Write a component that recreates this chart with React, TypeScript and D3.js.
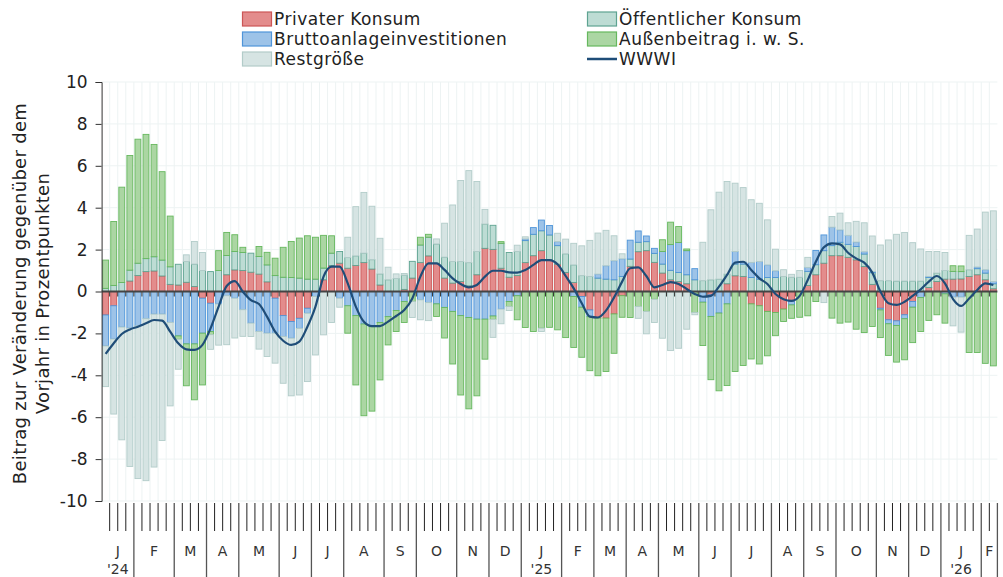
import * as d3 from "d3";
import { useEffect, useRef } from "react";

// weekly contributions (ISO weeks 2024-W01 .. 2026-W07), percentage points
const privat = [
  -1.12, -0.68, 0, 0.5, 0.76, 0.95, 0.98, 0.74, 0.34, 0.31, 0.44, 0.24, -0.32, -0.56, 0, 0.8, 1.03, 1.0, 0.92, 0.83,
  0.46, -0.32, -1.15, -1.43, -1.28, -0.8, 0, 0.56, 1.24, 1.35, 1.11, 1.24, 1.38, 1.07, 0.31, 0, 0, 0.1, 0.64, 1.38,
  1.7, 1.35, 0.64, 0.4, 0.48, 0.27, 0.8, 2.06, 2.01, 1.11, 0.68, 0.76, 1.38, 1.71, 1.95, 1.51, 1.3, 0.91, 0.43, -0.24,
  -0.88, -1.27, -1.27, -1.07, -0.2, 1.2, 1.9, 1.95, 1.39, 0.88, 0.56, 0.48, 0.37, 0, 0, -0.16, 0, 0.37, 0.75, 0.72,
  -0.59, -0.68, -0.95, -1.0, -0.84, -0.48, 0, 0.29, 0.8, 1.35, 1.71, 1.71, 1.63, 1.51, 1.19, 0.34, -0.8, -1.35, -1.4, -1.11,
  -0.48, 0, 0.19, 0.48, 0.59, 0.59, 0.6, 0.72, 0.8, 0.56, 0.13,
];
const oeffentlich = [
  0.15, 0.29, 0.43, 0.52, 0.59, 0.62, 0.68, 0.76, 0.84, 0.99, 0.99, 1.07, 1.0, 0.95, 1.0, 0.92, 0.88, 0.86, 0.91, 0.84,
  0.81, 0.76, 0.68, 0.67, 0.64, 0.59, 0.59, 0.56, 0.59, 0.56, 0.51, 0.46, 0.45, 0.45, 0.53, 0.56, 0.62, 0.68, 0.8, 0.84,
  0.89, 0.92, 1.0, 1.03, 0.95, 1.11, 1.11, 1.16, 1.15, 1.19, 1.18, 1.15, 1.05, 1.02, 0.95, 1.19, 0.89, 0.89, 0.84, 0.76,
  0.72, 0.64, 0.59, 0.56, 0.72, 0.35, 0.45, 0.43, 0.43, 0.43, 0.45, 0.43, 0.43, 0.56, 0.52, 0.56, 0.59, 0.46, 0.56, 0.59,
  0.67, 0.59, 0.67, 0.67, 0.72, 0.68, 0.68, 0.67, 0.48, 0.6, 0.48, 0.64, 0.62, 0.64, 0.6, 0.56, 0.52, 0.52, 0.5, 0.5,
  0.5, 0.5, 0.48, 0.4, 0.41, 0.37, 0.35, 0.32, 0.29, 0.32, 0.24,
];
const brutto = [
  -1.48, -1.59, -1.7, -1.75, -1.64, -1.3, -1.08, -1.08, -1.48, -2.12, -2.5, -2.5, -1.67, -1.35, -0.6, -0.2, -0.32, -0.87, -1.51, -1.91,
  -1.99, -1.67, -1.0, -0.8, -0.48, -0.24, -0.24, 0, 0, -0.32, -0.68, -1.15, -1.55, -1.68, -1.48, -1.2, -0.91, -0.48, 0, -0.4,
  -0.53, -0.59, -0.76, -0.95, -1.15, -1.24, -1.32, -1.32, -1.17, -0.84, -0.48, -0.2, 0.08, 0.32, 0.51, 0.45, 0.19, 0, -0.24, -0.51,
  -0.32, 0.19, 0.64, 0.91, 0.84, 0.9, 0.54, 0.27, 0.24, 0.6, 1.23, 1.43, 1.15, 0.53, -0.51, -1.03, -1.03, -0.59, 0.6, 0.1,
  0.72, 0.84, 0.6, 0.32, 0, -0.16, 0, 0.19, 0.68, 0.75, 0.88, 0.59, 0.43, 0.21, 0.11, 0.05, -0.08, -0.19, -0.22, -0.19,
  -0.27, -0.29, 0.05, 0, -0.11, -0.27, -0.27, 0, 0.08, 0.16, 0.11,
];
const aussen = [
  1.35, 3.05, 4.55, 5.47, 5.92, 5.93, 5.36, 4.22, 2.42, -0.16, -2.0, -2.67, -2.47, -0.15, 0.95, 1.1, 0.8, 0.25, 0, 0.48,
  0.6, 0.83, 1.43, 1.72, 1.91, 2.07, 2.0, 1.56, 0.83, 0, -1.31, -3.31, -4.38, -4.03, -2.74, -1.35, -1.0, -1.0, -0.48, 0.37,
  0.14, -0.6, -1.46, -2.51, -3.79, -4.36, -3.66, -1.91, -0.16, 0.08, -0.24, -1.15, -1.72, -1.91, -1.75, -1.71, -1.83, -2.2, -2.43, -2.39,
  -2.58, -2.75, -2.55, -1.88, -1.03, -1.24, -0.72, -0.95, -0.37, 0.56, 1.07, 0.76, 0.08, -1.0, -2.07, -3.02, -3.71, -3.9, -3.82, -3.53,
  -2.63, -2.78, -2.12, -1.11, -0.59, -0.64, -1.23, -1.16, -0.48, 0, -1.27, -1.51, -1.46, -1.8, -1.96, -1.67, -1.32, -1.51, -1.75, -1.96,
  -1.69, -1.62, -1.38, -1.11, -1.4, 0.27, 0.27, -2.91, -2.91, -3.43, -3.55,
];
const rest = [
  -1.94, -3.58, -5.38, -6.6, -7.29, -7.73, -7.3, -6.03, -3.98, -1.43, 0.32, 1.08, 0.86, -0.7, -1.96, -2.34, -1.9, -1.27, -0.64, -0.84,
  -1.11, -1.43, -2.23, -2.75, -3.18, -3.26, -2.79, -2.07, -1.48, -0.43, 0.97, 2.35, 2.9, 2.55, 1.7, 0.6, 0.22, 0.08, -0.76, -0.95,
  -0.86, 0.24, 1.62, 2.7, 3.87, 4.39, 3.34, 0.7, -0.86, -0.7, -0.19, 0.3, 0.1, 0, -0.16, 0, 0.4, 0.7, 1.03, 1.42,
  1.72, 1.96, 1.69, 1.19, 0.24, 0, -0.56, -1.07, -1.11, -2.23, -2.82, -2.71, -1.8, -0.11, 1.83, 3.34, 4.15, 4.42, 3.26, 3.55,
  2.99, 2.78, 2.15, 1.03, 0.32, 0.14, 0.32, 0.48, 0, -0.53, 0.51, 0.8, 0.6, 0.99, 1.38, 1.7, 1.7, 1.94, 2.23, 2.32,
  1.83, 1.53, 1.19, 1.03, 0.86, -1.37, -1.67, 1.64, 1.81, 2.75, 3.37,
];
const wwwi = [
  -2.98, -2.47, -2.03, -1.81, -1.68, -1.52, -1.36, -1.39, -1.92, -2.47, -2.76, -2.79, -2.55, -1.76, -0.72, 0.26, 0.5, -0.01, -0.41, -0.6,
  -1.2, -1.92, -2.35, -2.55, -2.39, -1.68, -0.72, 0.71, 1.19, 1.19, 0.39, -0.72, -1.44, -1.65, -1.65, -1.44, -1.17, -0.88, -0.33, 0.71,
  1.34, 1.34, 1.03, 0.63, 0.36, 0.2, 0.31, 0.71, 0.99, 0.99, 0.91, 0.9, 1.03, 1.27, 1.5, 1.5, 1.3, 0.74, 0.15, -0.56,
  -1.2, -1.24, -0.91, -0.28, 0.47, 1.11, 1.15, 0.74, 0.2, 0.31, 0.45, 0.36, 0.12, -0.12, -0.25, -0.21, 0.23, 0.79, 1.38, 1.42,
  1.03, 0.63, 0.36, -0.12, -0.37, -0.45, -0.21, 0.55, 1.42, 2.11, 2.3, 2.25, 1.85, 1.58, 1.38, 0.9, 0, -0.56, -0.64, -0.49,
  -0.21, 0.1, 0.47, 0.74, 0.39, -0.36, -0.69, -0.33, 0.07, 0.39, 0.31,
];

// x axis: months and number of ISO weeks in each
const months = ["J", "F", "M", "A", "M", "J", "J", "A", "S", "O", "N", "D", "J", "F", "M", "A", "M", "J", "J", "A", "S", "O", "N", "D", "J", "F"];
const weeksPerMonth = [4, 5, 4, 4, 5, 4, 4, 5, 4, 5, 4, 4, 5, 4, 4, 4, 5, 4, 5, 4, 4, 5, 4, 4, 5, 2];
const yearLabels = ["'24", "", "", "", "", "", "", "", "", "", "", "", "'25", "", "", "", "", "", "", "", "", "", "", "", "'26", ""];
const yTicks = [-10, -8, -6, -4, -2, 0, 2, 4, 6, 8, 10];

const series = [
  { key: "privat", label: "Privater Konsum", fill: "#e38c8c", stroke: "#cc5656", values: privat },
  { key: "oeffentlich", label: "Öffentlicher Konsum", fill: "#bddcd4", stroke: "#5ea391", values: oeffentlich },
  { key: "brutto", label: "Bruttoanlageinvestitionen", fill: "#9dc3e8", stroke: "#4f95d9", values: brutto },
  { key: "aussen", label: "Außenbeitrag i. w. S.", fill: "#abd6a3", stroke: "#66b85e", values: aussen },
  { key: "rest", label: "Restgröße", fill: "#d6e4e3", stroke: "#b2ccc9", values: rest },
];

const font = "'DejaVu Sans', sans-serif";

const App = () => {
  const ref = useRef<SVGSVGElement>(null);

  useEffect(() => {
    const svg = d3.select(ref.current);
    svg.selectAll("*").remove();

    const n = wwwi.length;
    const left = 101.6, right = 997.4, top = 82, bottom = 501;

    const x = d3.scaleBand<number>().domain(d3.range(n)).range([left, right]).paddingInner(0.16).paddingOuter(0.08);
    const step = x.step();
    const edge = (i: number) => left + i * step;
    const y = d3.scaleLinear().domain([-10, 10]).range([bottom, top]);

    const rows = d3.range(n).map((i) => {
      const r: any = { i };
      series.forEach((s) => (r[s.key] = s.values[i]));
      return r;
    });
    const stacked = d3.stack().keys(series.map((s) => s.key)).offset(d3.stackOffsetDiverging)(rows);

    // grid
    const grid = svg.append("g");
    grid.selectAll("line.v").data(d3.range(1, n)).join("line")
      .attr("x1", edge).attr("x2", edge).attr("y1", top).attr("y2", bottom)
      .attr("stroke", "#edf3f3").attr("stroke-width", 1);
    grid.selectAll("line.h").data(yTicks.filter((t) => t !== 0)).join("line")
      .attr("x1", left).attr("x2", right).attr("y1", (d) => y(d)).attr("y2", (d) => y(d))
      .attr("stroke", "#edf3f3").attr("stroke-width", 1);

    // bars
    stacked.forEach((layer, k) => {
      svg.append("g")
        .attr("fill", series[k].fill)
        .attr("stroke", series[k].stroke)
        .attr("stroke-width", 0.9)
        .selectAll("rect")
        .data(layer.filter((d) => Math.abs(d[1] - d[0]) > 0.001))
        .join("rect")
        .attr("x", (d: any) => x(d.data.i)! + 0.45)
        .attr("width", x.bandwidth() - 0.9)
        .attr("y", (d) => y(Math.max(d[0], d[1])))
        .attr("height", (d) => Math.abs(y(d[0]) - y(d[1])));
    });

    // zero line with week ticks
    svg.append("g").selectAll("line").data(d3.range(1, n)).join("line")
      .attr("x1", edge).attr("x2", edge).attr("y1", y(0)).attr("y2", y(0) + 5)
      .attr("stroke", "#333").attr("stroke-width", 1);
    svg.append("line").attr("x1", left).attr("x2", right).attr("y1", y(0)).attr("y2", y(0))
      .attr("stroke", "#444").attr("stroke-width", 2);

    // WWWI line
    const line = d3.line<number>()
      .x((d, i) => x(i)! + x.bandwidth() / 2)
      .y((d) => y(d))
      .curve(d3.curveMonotoneX);
    svg.append("path").datum(wwwi).attr("d", line)
      .attr("fill", "none").attr("stroke", "#1f4d78").attr("stroke-width", 2.2);

    // y axis
    const yAxis = svg.append("g").attr("transform", `translate(${left},0)`)
      .call(d3.axisLeft(y).tickValues(yTicks).tickSize(6).tickPadding(8).tickFormat((d) => String(d)));
    yAxis.select(".domain").attr("stroke", "#333");
    yAxis.selectAll(".tick line").attr("stroke", "#333");
    yAxis.selectAll("text").attr("font-family", font).attr("font-size", 17).attr("fill", "#222");

    svg.append("text")
      .attr("transform", `translate(26,${(top + bottom) / 2 + 2}) rotate(-90)`)
      .attr("text-anchor", "middle").attr("font-family", font).attr("font-size", 18).attr("letter-spacing", 0.3)
      .attr("fill", "#222")
      .text("Beitrag zur Veränderung gegenüber dem");
    svg.append("text")
      .attr("transform", `translate(49,${(top + bottom) / 2 + 2}) rotate(-90)`)
      .attr("text-anchor", "middle").attr("font-family", font).attr("font-size", 18).attr("letter-spacing", 0.3)
      .attr("fill", "#222")
      .text("Vorjahr in Prozentpunkten");

    // bottom axis: weekly ticks and month separators
    const monthStart = [0];
    weeksPerMonth.forEach((w, m) => monthStart.push(monthStart[m] + w));
    const sepSet = new Set(monthStart);
    svg.append("g").selectAll("line").data(d3.range(0, n + 1).filter((i) => !sepSet.has(i))).join("line")
      .attr("x1", edge).attr("x2", edge).attr("y1", bottom + 2).attr("y2", bottom + 30)
      .attr("stroke", "#222").attr("stroke-width", 1);
    svg.append("g").selectAll("line").data(monthStart.filter((i) => i > 0)).join("line")
      .attr("x1", edge).attr("x2", edge).attr("y1", bottom + 2).attr("y2", 577)
      .attr("stroke", "#555").attr("stroke-width", 1.3);
    svg.append("g").selectAll("text").data(months).join("text")
      .attr("x", (d, m) => (edge(monthStart[m]) + edge(monthStart[m + 1])) / 2)
      .attr("y", 556)
      .attr("text-anchor", "middle").attr("font-family", font).attr("font-size", 14).attr("fill", "#333")
      .text((d) => d);
    svg.append("g").selectAll("text").data(yearLabels).join("text")
      .attr("x", (d, m) => (edge(monthStart[m]) + edge(monthStart[m + 1])) / 2)
      .attr("y", 574)
      .attr("text-anchor", "middle").attr("font-family", font).attr("font-size", 14).attr("fill", "#333")
      .text((d) => d);

    // legend
    const legendItems = [...series.map((s) => ({ label: s.label, fill: s.fill, stroke: s.stroke, line: false })),
      { label: "WWWI", fill: "none", stroke: "#1f4d78", line: true }];
    const lg = svg.append("g");
    legendItems.forEach((it, k) => {
      const col = k % 2, row = Math.floor(k / 2);
      const lx = col === 0 ? 242 : 587;
      const ly = 19 + row * 20;
      if (it.line) {
        lg.append("line").attr("x1", lx).attr("x2", lx + 30).attr("y1", ly).attr("y2", ly)
          .attr("stroke", it.stroke).attr("stroke-width", 2.5);
      } else {
        lg.append("rect").attr("x", lx + 0.5).attr("y", ly - 7).attr("width", 29).attr("height", 14)
          .attr("fill", it.fill).attr("stroke", it.stroke).attr("stroke-width", 1.2);
      }
      lg.append("text").attr("x", lx + 32).attr("y", ly + 6)
        .attr("font-family", font).attr("font-size", 17).attr("letter-spacing", 0.5)
        .attr("fill", "#222").text(it.label);
    });
  }, []);

  return (
    <svg ref={ref} width={1003} height={577} style={{ position: "absolute", left: 0, top: 0, background: "#fff" }} />
  );
};

export default App;
